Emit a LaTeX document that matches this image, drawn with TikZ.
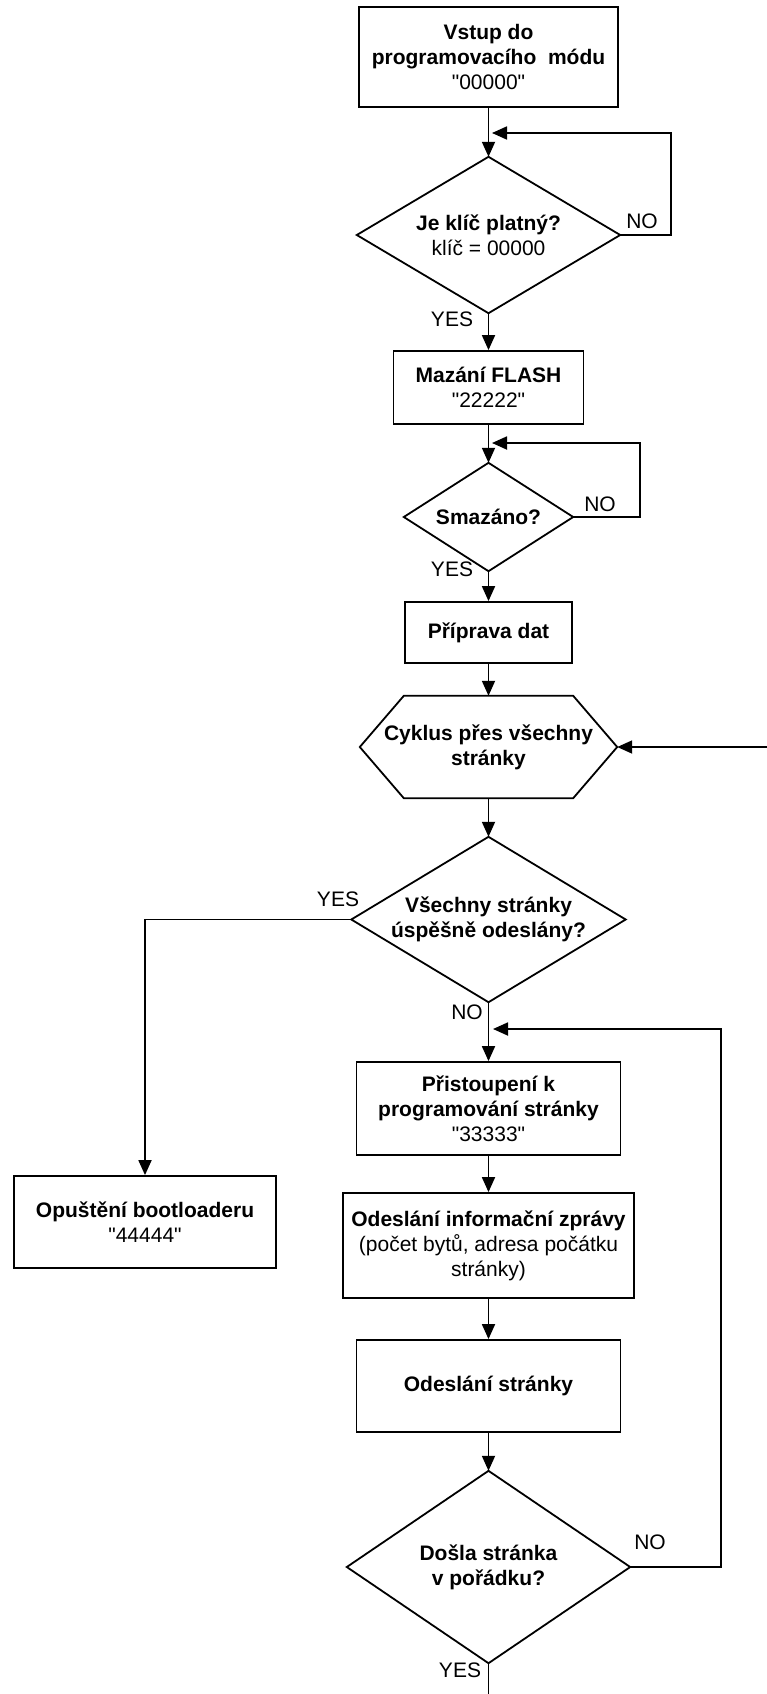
\documentclass[tikz,border=0pt]{standalone}
\usepackage{fontspec}
\setmainfont{Liberation Sans}[Ligatures=TeXOff]
\usetikzlibrary{arrows.meta}
\begin{document}
\begin{tikzpicture}[x=1pt,y=-1pt,
  txt/.style={font=\fontsize{21}{25}\selectfont, align=center},
  box/.style={txt, draw, line width=1.8pt, rectangle, inner sep=2pt},
  frame/.style={txt, rectangle, draw=none, inner sep=2pt},
  outline/.style={line width=1.8pt, line join=miter},
  arr/.style={line width=1.8pt, -{Triangle[length=15pt,width=13pt]}},
  plain/.style={line width=1.8pt},
  lbl/.style={font=\fontsize{21}{25}\selectfont, inner sep=0pt}]
\useasboundingbox (0,0) rectangle (767,1694);

% nodes
\node[box, minimum width=259, minimum height=100] (start) at (488.5,57)
  {\textbf{Vstup do}\\\textbf{programovacího\ \ módu}\\"00000"};
\node[frame, minimum width=263, minimum height=156] (d1) at (488.5,235)
  {\textbf{Je klíč platný?}\\klíč = 00000};
\node[box, minimum width=190, minimum height=73] (maz) at (488.5,387.5)
  {\textbf{Mazání FLASH}\\"22222"};
\node[frame, minimum width=169, minimum height=108] (d2) at (488.5,517)
  {\textbf{Smazáno?}};
\node[box, minimum width=167, minimum height=61] (prip) at (488.5,632.5)
  {\textbf{Příprava dat}};
\node[frame, minimum width=257, minimum height=102] (hex) at (488.5,747)
  {\textbf{Cyklus přes všechny}\\\textbf{stránky}};
\node[frame, minimum width=274, minimum height=165] (d3) at (488.5,919.5)
  {\textbf{Všechny stránky}\\\textbf{úspěšně odeslány?}};
\node[box, minimum width=262, minimum height=92] (exit) at (145,1222)
  {\textbf{Opuštění bootloaderu}\\"44444"};
\node[box, minimum width=264, minimum height=93] (pris) at (488.5,1108.5)
  {\textbf{Přistoupení k}\\\textbf{programování stránky}\\"33333"};
\node[box, minimum width=291, minimum height=105] (info) at (488.5,1245.5)
  {\textbf{Odeslání informační zprávy}\\(počet bytů, adresa počátku\\stránky)};
\node[box, minimum width=264, minimum height=92] (send) at (488.5,1386)
  {\textbf{Odeslání stránky}};
\node[frame, minimum width=283, minimum height=192] (d4) at (488.5,1567)
  {\textbf{Došla stránka}\\\textbf{v pořádku?}};

% shapes drawn from anchors
\foreach \d in {d1,d2,d3,d4}
  \draw[outline] (\d.north) -- (\d.east) -- (\d.south) -- (\d.west) -- cycle;
\draw[outline] (hex.west) -- ([xshift=44pt]hex.north west) -- ([xshift=-44pt]hex.north east)
  -- (hex.east) -- ([xshift=-44pt]hex.south east) -- ([xshift=44pt]hex.south west) -- cycle;

% labels
\node[lbl] (no1) at (642,221.5) {NO};
\node[lbl] (yes1) at (452,319.5) {YES};
\node[lbl] (no2) at (600,504) {NO};
\node[lbl] (yes2) at (452,569.5) {YES};
\node[lbl] (yes3) at (338,899.5) {YES};
\node[lbl] (no3) at (467,1012) {NO};
\node[lbl] (no4) at (650,1542) {NO};
\node[lbl] (yes4) at (460,1670) {YES};

% coordinates
\coordinate (c1) at (671,133);
\coordinate (j1) at (492,133);
\coordinate (c2) at (640,443);
\coordinate (j2) at (492,443);
\coordinate (rin) at (767,747);
\coordinate (c3) at (721,1029);
\coordinate (j3) at (493,1029);
\coordinate (bot) at (488.5,1694);

% main chain
\draw[arr] (start.south) -- (d1.north);
\draw[arr] (d1.south) -- (maz.north);
\draw[arr] (maz.south) -- (d2.north);
\draw[arr] (d2.south) -- (prip.north);
\draw[arr] (prip.south) -- (hex.north);
\draw[arr] (hex.south) -- (d3.north);
\draw[arr] (d3.south) -- (pris.north);
\draw[arr] (pris.south) -- (info.north);
\draw[arr] (info.south) -- (send.north);
\draw[arr] (send.south) -- (d4.north);
\draw[plain] (d4.south) -- (bot);

% loops and branches
\draw[arr] (d1.east) -| (c1) -- (j1);
\draw[arr] (d2.east) -| (c2) -- (j2);
\draw[arr] (rin) -- (hex.east);
\draw[arr] (d3.west) -| (exit.north);
\draw[arr] (d4.east) -| (c3) -- (j3);
\end{tikzpicture}
\end{document}
